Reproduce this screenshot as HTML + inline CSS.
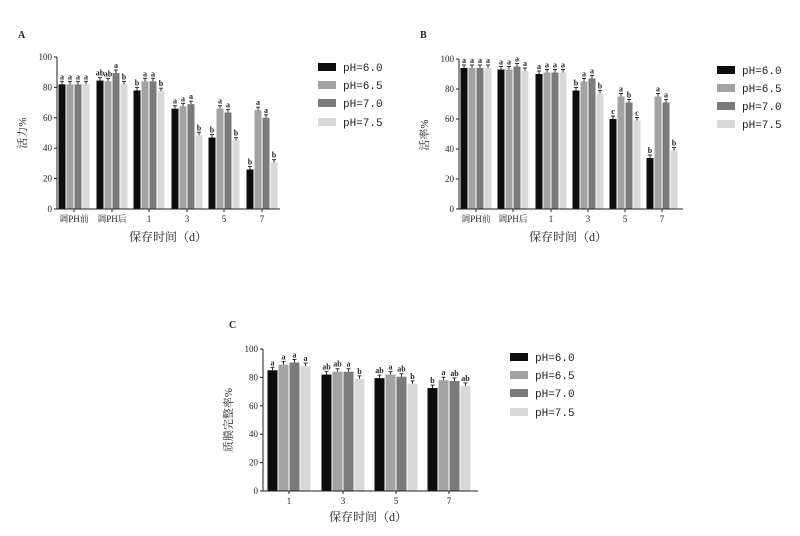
<!DOCTYPE html>
<html><head><meta charset="utf-8"><style>
body{margin:0;background:#fff}
svg text{font-family:"Liberation Serif","Noto Serif CJK SC",serif;fill:#222}
svg text.lg{font-family:"Liberation Mono","Noto Serif CJK SC",monospace}
</style></head><body>
<svg id="s" width="800" height="531" xmlns="http://www.w3.org/2000/svg">
<text x="18" y="38" font-size="10" font-weight="bold">A</text>
<text x="420" y="38" font-size="10" font-weight="bold">B</text>
<text x="229" y="328" font-size="10" font-weight="bold">C</text>
<text transform="translate(26,133) rotate(-90)" font-size="11" text-anchor="middle">活力%</text>
<text transform="translate(428,135) rotate(-90)" font-size="11" text-anchor="middle">活率%</text>
<text transform="translate(232,420) rotate(-90)" font-size="11" text-anchor="middle">质膜完整率%</text>
<text x="168" y="241" font-size="12" text-anchor="middle">保存时间（d）</text>
<text x="568" y="241" font-size="12" text-anchor="middle">保存时间（d）</text>
<text x="368" y="521" font-size="12" text-anchor="middle">保存时间（d）</text>
</svg>
<script>
const S=document.getElementById('s');const NS='http://www.w3.org/2000/svg';
function el(t,a,txt){const e=document.createElementNS(NS,t);for(const k in a)e.setAttribute(k,a[k]);if(txt!==undefined)e.textContent=txt;S.appendChild(e);return e;}
const C=['#0d0d0d','#a3a3a3','#7b7b7b','#d9d9d9'];
function chart(o){
 const{ax,y0,y100,xe,cx,bw,vals,labs,cats,lx,ly}=o;
 const sc=v=>y0-(y0-y100)*v/100;
 vals.forEach((g,i)=>{g.forEach((v,j)=>{
  const x=cx[i]-2*bw+j*bw;const y=sc(v);
  el('rect',{x:x+0.5,y:y,width:bw-1,height:y0-y,fill:C[j]});
  const ey=y-3;el('line',{x1:x+bw/2,x2:x+bw/2,y1:y,y2:ey,stroke:'#333','stroke-width':1});
  el('line',{x1:x+bw/2-2,x2:x+bw/2+2,y1:ey,y2:ey,stroke:'#333','stroke-width':1});
  el('text',{x:x+bw/2,y:ey-2,'font-size':8,'font-weight':'bold','text-anchor':'middle'},labs[i][j]);
 });
 el('line',{x1:cx[i],x2:cx[i],y1:y0,y2:y0+3,stroke:'#222'});
 el('text',{x:cx[i],y:y0+13,'font-size':9,'text-anchor':'middle'},cats[i]);
 });
 el('line',{x1:ax,x2:ax,y1:y100,y2:y0,stroke:'#222'});
 el('line',{x1:ax,x2:xe,y1:y0,y2:y0,stroke:'#222'});
 for(let v=0;v<=100;v+=20){const y=sc(v);el('line',{x1:ax-3,x2:ax,y1:y,y2:y,stroke:'#222'});
  el('text',{x:ax-5,y:y+3,'font-size':9,'text-anchor':'end'},String(v));}
 ['pH=6.0','pH=6.5','pH=7.0','pH=7.5'].forEach((t,j)=>{
  el('rect',{x:lx,y:ly[j]-4,width:18,height:8,fill:C[j]});
  el('text',{x:lx+25,y:ly[j]+4,'font-size':11,'class':'lg'},t);});
}
const cat6=['调PH前','调PH后','1','3','5','7'];
chart({ax:57,y0:209,y100:57,xe:280,bw:8,cx:[74,112,149,187,224,262],cats:cat6,
 vals:[[82,82,82,82],[84.5,84,89.5,82],[78,84,84,77.5],[66,67.5,69,48.5],[47,66,63.5,45],[26,65,60,30.5]],
 labs:[['a','a','a','a'],['ab','ab','a','b'],['b','a','a','b'],['a','a','a','b'],['b','a','a','b'],['b','a','a','b']],
 lx:318,ly:[67,85,103,122]});
chart({ax:459,y0:209,y100:59,xe:683,bw:8,cx:[476,513,551,588,625,662],cats:cat6,
 vals:[[94,94,94,94],[93,93,95,92],[90,91,91,91],[79,85,87,77],[60,75,71,59],[34,75,71,39]],
 labs:[['a','a','a','a'],['a','a','a','a'],['a','a','a','a'],['b','a','a','b'],['c','a','b','c'],['b','a','a','b']],
 lx:717,ly:[70,88,106,124]});
chart({ax:263,y0:491,y100:349,xe:478,bw:11,cx:[289,343,396,449],cats:['1','3','5','7'],
 vals:[[85,89,90.5,88],[82,84,84,79],[79.5,82,80.5,75.5],[72.5,78,77.5,74]],
 labs:[['a','a','a','a'],['ab','ab','a','b'],['ab','a','ab','b'],['b','a','ab','ab']],
 lx:510,ly:[357,375,393,412]});
</script>
</body></html>
